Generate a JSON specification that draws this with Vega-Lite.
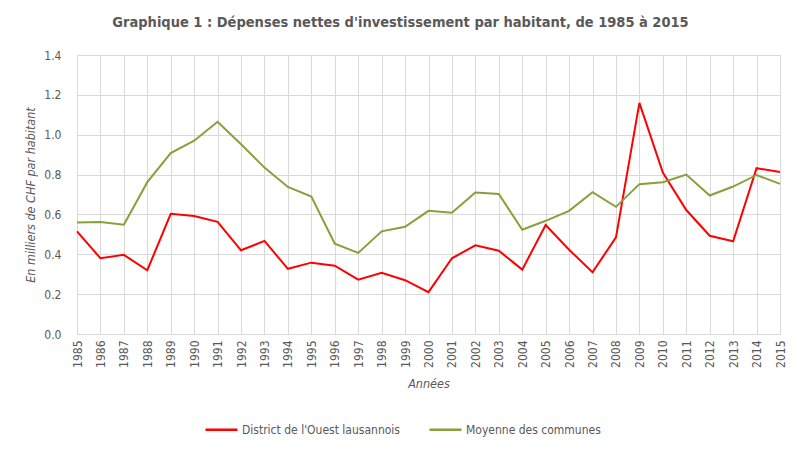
{
  "$schema": "https://vega.github.io/schema/vega-lite/v6.json",
  "autosize": "none",
  "width": 703,
  "height": 279,
  "padding": {"left": 77, "top": 55, "right": 20, "bottom": 118},
  "background": "white",
  "title": {
    "text": "Graphique 1 : Dépenses nettes d'investissement par habitant, de 1985 à 2015",
    "anchor": "middle",
    "frame": "group",
    "dx": -28,
    "offset": 19,
    "fontSize": 14.5,
    "fontWeight": "bold",
    "color": "#595959",
    "font": "Liberation Sans Narrow, DejaVu Sans Condensed, Arial Narrow, Roboto, sans-serif"
  },
  "config": {
    "font": "Liberation Sans Narrow, DejaVu Sans Condensed, Arial Narrow, Roboto, sans-serif",
    "view": {"stroke": null},
    "axis": {
      "labelColor": "#595959",
      "titleColor": "#595959",
      "labelFontSize": 12,
      "titleFontSize": 12.5,
      "titleFontWeight": "normal",
      "titleFontStyle": "italic",
      "gridColor": "#d9d9d9",
      "gridWidth": 1,
      "ticks": false
    },
    "legend": {
      "labelColor": "#595959",
      "labelFontSize": 12,
      "labelLimit": 0
    }
  },
  "data": {
    "values": [
      {"annee": 1985, "serie": "District de l'Ouest lausannois", "valeur": 0.515},
      {"annee": 1986, "serie": "District de l'Ouest lausannois", "valeur": 0.38},
      {"annee": 1987, "serie": "District de l'Ouest lausannois", "valeur": 0.397},
      {"annee": 1988, "serie": "District de l'Ouest lausannois", "valeur": 0.32},
      {"annee": 1989, "serie": "District de l'Ouest lausannois", "valeur": 0.603},
      {"annee": 1990, "serie": "District de l'Ouest lausannois", "valeur": 0.592},
      {"annee": 1991, "serie": "District de l'Ouest lausannois", "valeur": 0.563},
      {"annee": 1992, "serie": "District de l'Ouest lausannois", "valeur": 0.42},
      {"annee": 1993, "serie": "District de l'Ouest lausannois", "valeur": 0.467},
      {"annee": 1994, "serie": "District de l'Ouest lausannois", "valeur": 0.327},
      {"annee": 1995, "serie": "District de l'Ouest lausannois", "valeur": 0.358},
      {"annee": 1996, "serie": "District de l'Ouest lausannois", "valeur": 0.343},
      {"annee": 1997, "serie": "District de l'Ouest lausannois", "valeur": 0.273},
      {"annee": 1998, "serie": "District de l'Ouest lausannois", "valeur": 0.307},
      {"annee": 1999, "serie": "District de l'Ouest lausannois", "valeur": 0.27},
      {"annee": 2000, "serie": "District de l'Ouest lausannois", "valeur": 0.21},
      {"annee": 2001, "serie": "District de l'Ouest lausannois", "valeur": 0.38},
      {"annee": 2002, "serie": "District de l'Ouest lausannois", "valeur": 0.445},
      {"annee": 2003, "serie": "District de l'Ouest lausannois", "valeur": 0.418},
      {"annee": 2004, "serie": "District de l'Ouest lausannois", "valeur": 0.323},
      {"annee": 2005, "serie": "District de l'Ouest lausannois", "valeur": 0.547},
      {"annee": 2006, "serie": "District de l'Ouest lausannois", "valeur": 0.423},
      {"annee": 2007, "serie": "District de l'Ouest lausannois", "valeur": 0.31},
      {"annee": 2008, "serie": "District de l'Ouest lausannois", "valeur": 0.485},
      {"annee": 2009, "serie": "District de l'Ouest lausannois", "valeur": 1.16},
      {"annee": 2010, "serie": "District de l'Ouest lausannois", "valeur": 0.81},
      {"annee": 2011, "serie": "District de l'Ouest lausannois", "valeur": 0.622},
      {"annee": 2012, "serie": "District de l'Ouest lausannois", "valeur": 0.493},
      {"annee": 2013, "serie": "District de l'Ouest lausannois", "valeur": 0.465},
      {"annee": 2014, "serie": "District de l'Ouest lausannois", "valeur": 0.832},
      {"annee": 2015, "serie": "District de l'Ouest lausannois", "valeur": 0.813},
      {"annee": 1985, "serie": "Moyenne des communes", "valeur": 0.56},
      {"annee": 1986, "serie": "Moyenne des communes", "valeur": 0.562},
      {"annee": 1987, "serie": "Moyenne des communes", "valeur": 0.548},
      {"annee": 1988, "serie": "Moyenne des communes", "valeur": 0.762},
      {"annee": 1989, "serie": "Moyenne des communes", "valeur": 0.908},
      {"annee": 1990, "serie": "Moyenne des communes", "valeur": 0.97},
      {"annee": 1991, "serie": "Moyenne des communes", "valeur": 1.065},
      {"annee": 1992, "serie": "Moyenne des communes", "valeur": 0.952},
      {"annee": 1993, "serie": "Moyenne des communes", "valeur": 0.835},
      {"annee": 1994, "serie": "Moyenne des communes", "valeur": 0.738},
      {"annee": 1995, "serie": "Moyenne des communes", "valeur": 0.69},
      {"annee": 1996, "serie": "Moyenne des communes", "valeur": 0.453},
      {"annee": 1997, "serie": "Moyenne des communes", "valeur": 0.407},
      {"annee": 1998, "serie": "Moyenne des communes", "valeur": 0.515},
      {"annee": 1999, "serie": "Moyenne des communes", "valeur": 0.538},
      {"annee": 2000, "serie": "Moyenne des communes", "valeur": 0.618},
      {"annee": 2001, "serie": "Moyenne des communes", "valeur": 0.608},
      {"annee": 2002, "serie": "Moyenne des communes", "valeur": 0.71},
      {"annee": 2003, "serie": "Moyenne des communes", "valeur": 0.703},
      {"annee": 2004, "serie": "Moyenne des communes", "valeur": 0.523},
      {"annee": 2005, "serie": "Moyenne des communes", "valeur": 0.568},
      {"annee": 2006, "serie": "Moyenne des communes", "valeur": 0.618},
      {"annee": 2007, "serie": "Moyenne des communes", "valeur": 0.712},
      {"annee": 2008, "serie": "Moyenne des communes", "valeur": 0.638},
      {"annee": 2009, "serie": "Moyenne des communes", "valeur": 0.752},
      {"annee": 2010, "serie": "Moyenne des communes", "valeur": 0.762},
      {"annee": 2011, "serie": "Moyenne des communes", "valeur": 0.80},
      {"annee": 2012, "serie": "Moyenne des communes", "valeur": 0.695},
      {"annee": 2013, "serie": "Moyenne des communes", "valeur": 0.74},
      {"annee": 2014, "serie": "Moyenne des communes", "valeur": 0.798},
      {"annee": 2015, "serie": "Moyenne des communes", "valeur": 0.753}
    ]
  },
  "mark": {"type": "line", "strokeWidth": 2},
  "encoding": {
    "x": {
      "field": "annee",
      "type": "quantitative",
      "scale": {"domain": [1985, 2015], "nice": false, "zero": false},
      "axis": {
        "title": "Années",
        "format": "d",
        "values": [1985,1986,1987,1988,1989,1990,1991,1992,1993,1994,1995,1996,1997,1998,1999,2000,2001,2002,2003,2004,2005,2006,2007,2008,2009,2010,2011,2012,2013,2014,2015],
        "labelAngle": 270,
        "labelPadding": 6,
        "domain": true,
        "domainColor": "#d9d9d9",
        "titlePadding": 10,
        "labelFlush": false,
        "labelOverlap": false
      }
    },
    "y": {
      "field": "valeur",
      "type": "quantitative",
      "scale": {"domain": [0, 1.4], "nice": false},
      "axis": {
        "title": "En milliers de CHF par habitant",
        "format": ".1f",
        "values": [0, 0.2, 0.4, 0.6, 0.8, 1.0, 1.2, 1.4],
        "domain": false,
        "labelPadding": 16,
        "titlePadding": 6
      }
    },
    "color": {
      "field": "serie",
      "type": "nominal",
      "scale": {
        "domain": ["District de l'Ouest lausannois", "Moyenne des communes"],
        "range": ["#ff0000", "#86a03a"]
      },
      "legend": {
        "title": null,
        "orient": "none",
        "direction": "horizontal",
        "legendX": 127,
        "legendY": 357,
        "symbolType": "stroke",
        "symbolSize": 1024,
        "symbolStrokeWidth": 2.5,
        "labelOffset": 3,
        "columnPadding": 24,
        "padding": 0
      }
    }
  }
}
